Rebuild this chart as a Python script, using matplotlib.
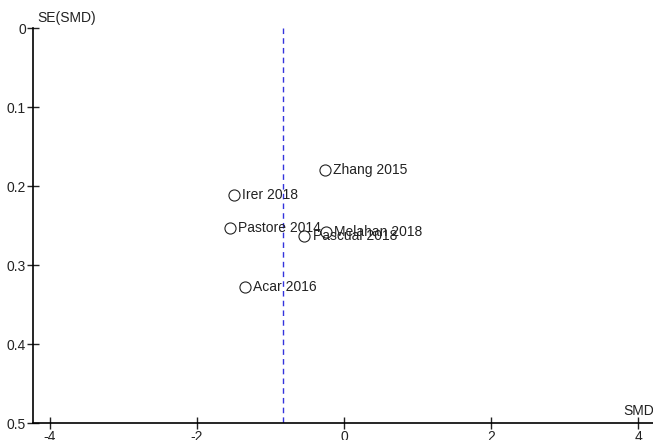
import matplotlib
matplotlib.use("Agg")
import matplotlib.pyplot as plt

# study data
studies = ["Zhang 2015", "Irer 2018", "Pastore 2014", "Pascual 2018", "Melahan 2018", "Acar 2016"]
smd = [-0.26, -1.50, -1.55, -0.54, -0.25, -1.35]
se_smd = [0.180, 0.211, 0.253, 0.263, 0.258, 0.328]
pooled_smd = -0.83

x_ticks = [-4, -2, 0, 2, 4]
y_ticks = [0, 0.1, 0.2, 0.3, 0.4, 0.5]

plt.rcParams['font.family'] = ['Liberation Sans', 'DejaVu Sans']

fig = plt.figure(figsize=(6.53, 4.40), dpi=100)
ax = fig.add_axes([33 / 653, 17 / 440, 1 - 33 / 653, (423 - 28) / 440])

ax.plot(smd, se_smd, 'o', markersize=8, markerfacecolor='white',
        markeredgecolor='#222222', markeredgewidth=0.8, linestyle='none', zorder=3)
for name, x, y in zip(studies, smd, se_smd):
    ax.annotate(name, (x, y), xytext=(6, 0), textcoords='offset points',
                va='center', ha='left', fontsize=10, color='#222222')

ax.plot([pooled_smd, pooled_smd], [0, 0.5], color='#3333dd', linestyle=(0, (4, 3)),
        linewidth=1.0, zorder=2)

ax.set_xlim(-4.23, 4.2)
ax.set_ylim(0.5, 0)
ax.set_xticks(x_ticks)
ax.set_xticklabels([str(t) for t in x_ticks])
ax.set_yticks(y_ticks)
ax.set_yticklabels(['0', '0.1', '0.2', '0.3', '0.4', '0.5'])

for side in ['top', 'right']:
    ax.spines[side].set_visible(False)
ax.spines['left'].set_linewidth(1.2)
ax.spines['bottom'].set_linewidth(1.2)
ax.tick_params(direction='inout', length=8, width=1.0, labelsize=10, pad=1, colors='#222222')

ax.text(4, 0.494, 'SMD', ha='center', va='bottom',
        fontsize=10, color='#222222', clip_on=False)
ax.annotate('SE(SMD)', (0, 1), xycoords='axes fraction', xytext=(3, 2),
            textcoords='offset points', ha='left', va='bottom', fontsize=10, color='#222222',
            annotation_clip=False)

fig.savefig('out.png', dpi=100)
